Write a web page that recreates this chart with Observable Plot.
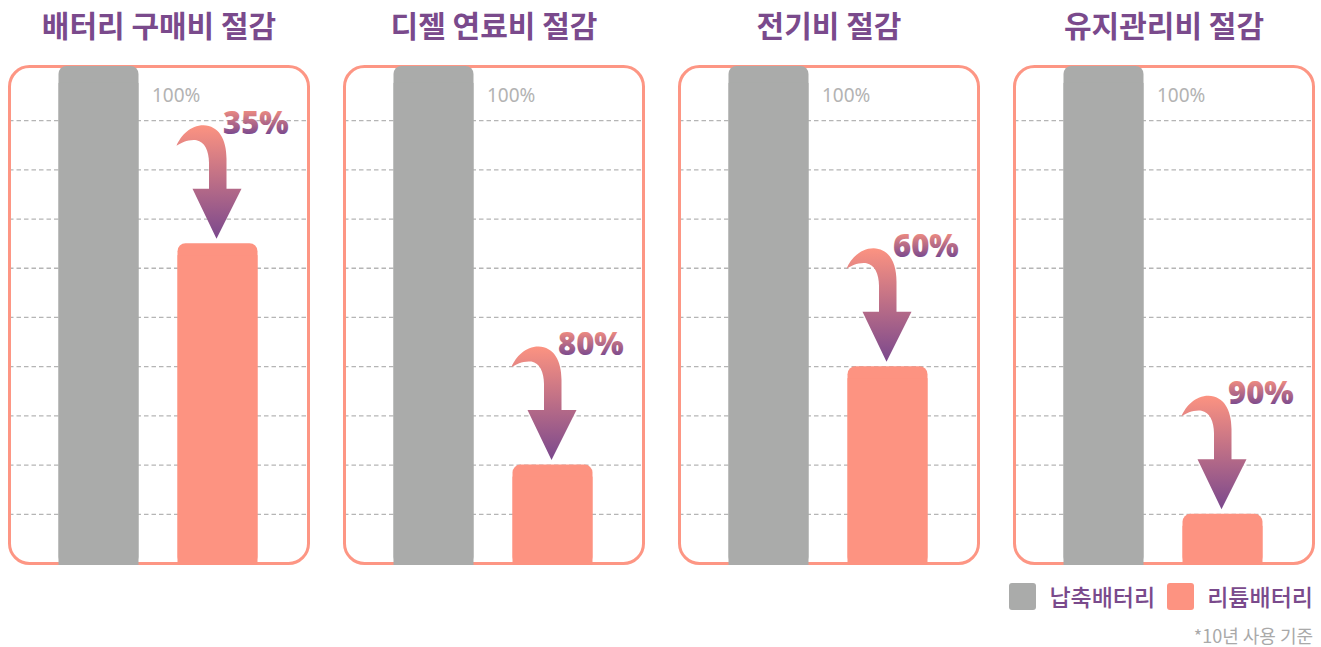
<!DOCTYPE html>
<html>
<head>
<meta charset="utf-8">
<script src="https://cdn.jsdelivr.net/npm/d3@7"></script>
<script src="https://cdn.jsdelivr.net/npm/@observablehq/plot@0.6"></script>
<style>
  html, body { margin: 0; padding: 0; background: #fff; }
  #wrap { position: relative; width: 1321px; height: 647px; font-family: "Noto Sans CJK KR", "Noto Sans", sans-serif; }
  #legend { position: absolute; top: 583px; right: 8px; display: flex; align-items: center; }
  .sw { width: 27px; height: 27px; border-radius: 3px; }
  .lab { font-size: 23px; color: #7a4a8c; margin-left: 13px; margin-right: 12px; line-height: 27px; font-weight: 500; }
  .lab:last-child { margin-right: 0; }
  #caption { position: absolute; top: 622px; right: 8px; font-size: 18px; color: #a9a9a9; }
</style>
</head>
<body>
<div id="wrap">
  <div id="chart"></div>
  <div id="legend"></div>
  <div id="caption"></div>
</div>
<script>
// ---- data ----
const panels = ["배터리 구매비 절감", "디젤 연료비 절감", "전기비 절감", "유지관리비 절감"];
const series = ["납축배터리", "리튬배터리"];
const baseValue = 100;               // 납축배터리 = 100%
const reductions = [35, 80, 60, 90]; // 리튬배터리 절감률 (%)
const reductionLabels = ["35%", "80%", "60%", "90%"];
const gridTicks = [10, 20, 30, 40, 50, 60, 70, 80, 90];
const caption = "*10년 사용 기준";

// ---- styles ----
const colors = ["#aaabaa", "#fd9381"];
const purple = "#7a4a8c";
const frameColor = "#fd9684";

// ---- build table ----
const rows = panels.flatMap((p, i) => [
  {panel: p, battery: series[0], value: baseValue, label: baseValue + "%"},
  {panel: p, battery: series[1], value: baseValue - reductions[i], label: reductionLabels[i]}
]);
const leadRows = rows.filter(d => d.battery === series[0]);
const lithRows = rows.filter(d => d.battery === series[1]);

// custom curved-arrow symbol (tip at origin, pointing down)
const arrowSymbol = {
  draw(ctx) {
    ctx.moveTo(0, 0);
    ctx.lineTo(-24, -50);
    ctx.lineTo(-7.5, -50);
    ctx.lineTo(-7.5, -76);
    ctx.bezierCurveTo(-7.5, -88, -12, -97, -20, -98.5);
    ctx.bezierCurveTo(-28, -99.5, -35, -96, -40, -93);
    ctx.bezierCurveTo(-36, -103, -26, -113.5, -13, -113.5);
    ctx.bezierCurveTo(2, -113, 10, -100, 10, -80);
    ctx.lineTo(10, -50);
    ctx.lineTo(25, -50);
    ctx.closePath();
  }
};

const barBase = {fx: "panel", x: "battery", y: "value", fill: "battery", insetBottom: -2};

const chart = Plot.plot({
  width: 1321,
  height: 575,
  marginTop: 66,
  marginBottom: 12,
  marginLeft: 8.5,
  marginRight: 7.5,
  fx: {domain: panels, paddingInner: 0.1085, paddingOuter: 0, axis: null},
  x: {domain: series, paddingInner: 0.325, paddingOuter: 0.41, axis: null},
  y: {domain: [0, 101], axis: null},
  color: {domain: series, range: colors},
  style: {fontFamily: "'Noto Sans CJK KR', 'Noto Sans', sans-serif", background: "#fff"},
  marks: [
    Plot.ruleY(gridTicks, {y: d => d, stroke: "#b5b5b5", strokeWidth: 1.3, strokeDasharray: "4.5,3"}),
    Plot.frame({stroke: frameColor, strokeWidth: 3, rx: 20, ry: 20}),
    // gray bars (extend to frame top)
    Plot.barY(leadRows, {...barBase, rx: 8, ry: 8, insetTop: -5}),
    Plot.barY(leadRows, {...barBase, insetTop: 12}),
    // lithium bars
    Plot.barY(lithRows, {...barBase, rx: 8, ry: 8}),
    Plot.barY(lithRows, {...barBase, insetTop: 12}),
    // 100% label
    Plot.text(leadRows, {fx: "panel", x: "battery", y: "value", text: "label",
      textAnchor: "start", lineAnchor: "top", dx: 53, dy: 17, fontSize: 19, fill: "#b3b3b3",
      fontFamily: "'Noto Sans', sans-serif"}),
    // arrows
    Plot.dot(lithRows, {fx: "panel", x: "battery", y: "value", symbol: arrowSymbol, r: 10,
      fill: "url(#arrowGrad)", stroke: "none", dy: -5, dx: -1.5}),
    // reduction labels
    Plot.text(lithRows, {fx: "panel", x: "battery", y: "value", text: "label",
      textAnchor: "start", lineAnchor: "bottom", dx: 5, dy: -110, fontSize: 31, fontWeight: 900,
      fill: "url(#pctGrad)", fontFamily: "'Noto Sans', sans-serif"}),
    // panel titles
    Plot.text(panels, {fx: d => d, text: d => d, frameAnchor: "top", lineAnchor: "bottom", dy: -30,
      fontSize: 30, fontWeight: "bold", fill: purple, letterSpacing: "0.8px",
      fontFamily: "'Noto Sans CJK KR', sans-serif"})
  ]
});

// gradients
const svgSel = d3.select(chart.tagName.toLowerCase() === "svg" ? chart : chart.querySelector("svg"));
const defs = svgSel.insert("defs", ":first-child");
const g1 = defs.append("linearGradient").attr("id", "arrowGrad").attr("x1", 0).attr("y1", 0).attr("x2", 0).attr("y2", 1);
g1.append("stop").attr("offset", "0").attr("stop-color", "#fc9381");
g1.append("stop").attr("offset", "1").attr("stop-color", "#7a488d");
const g2 = defs.append("linearGradient").attr("id", "pctGrad").attr("x1", 0).attr("y1", 0).attr("x2", 0).attr("y2", 1);
g2.append("stop").attr("offset", "0.2").attr("stop-color", "#f48e80");
g2.append("stop").attr("offset", "0.8").attr("stop-color", "#7b4a8e");
svgSel.selectAll("text").filter(function() { return this.getAttribute("letter-spacing") == null; });
svgSel.selectAll("g[aria-label='text']").each(function() {});

document.getElementById("chart").appendChild(chart);

// legend
const legend = document.getElementById("legend");
series.forEach((s, i) => {
  const sw = document.createElement("div");
  sw.className = "sw";
  sw.style.background = colors[i];
  const lab = document.createElement("div");
  lab.className = "lab";
  lab.textContent = s;
  legend.appendChild(sw);
  legend.appendChild(lab);
});
document.getElementById("caption").textContent = caption;
</script>
</body>
</html>
